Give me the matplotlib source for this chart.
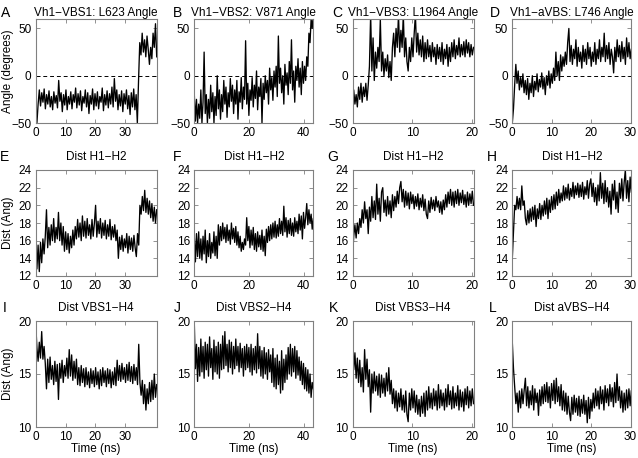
import numpy as np
import matplotlib
matplotlib.use("Agg")
import matplotlib.pyplot as plt

plt.rcParams["font.family"] = ["Liberation Sans", "DejaVu Sans"]

# ---- data (time in ns, values per panel) ----
t_end = [40.6, 43.5, 20.2, 30.2,
         40.6, 43.5, 20.2, 30.2,
         40.6, 43.5, 20.2, 30.2]

angle_vbs1 = [-38, -50, -30, -15, -32, -18, -28, -14, -35, -20, -30, -16, -33, -22, -36, -17,
              -29, -21, -34, -5, -27, -18, -38, -20, -31, -15, -36, -22, -30, -17, -35, -20,
              -28, -13, -34, -19, -31, -16, -37, -22, -29, -15, -33, -18, -40, -21, -30, -14,
              -36, -19, -32, -17, -35, -22, -28, -13, -37, -20, -31, -16, -34, -19, -30, -12,
              -33, -3, -27, -15, -36, -20, -32, -16, -38, -19, -30, -15, -35, -21, -41, -18,
              -33, -14, -36, -20, -50, -5, 35, 22, 45, 25, 38, 20, 42, 28, 12, 30,
              18, 45, 30, 55, 20]
angle_vbs2 = [-20, -48, -25, -50, -30, -45, -15, -50, -28, 25, -40, -20, -50, -25, -45, -10,
              -38, -18, -50, -22, -42, 0, -35, -15, -46, -20, -38, -5, -30, -12, -44, -18,
              -33, -3, -27, -10, -40, -15, -30, -5, -46, -17, -28, -2, -35, -12, -25, 37,
              -30, -8, -42, -15, -26, -2, -33, -10, -24, 5, -36, -12, -22, -3, -50, -8,
              -25, 0, -18, -5, -30, 8, -15, -2, -26, 5, -12, 10, -22, 42, -8, 8,
              -18, 0, -30, 12, -10, 3, -20, 15, -8, 38, -15, 5, -28, 10, -5, 18,
              -12, 8, -20, 15, -8, 10, -5, 20, 10, 45, 35, 60, 50, 65]
angle_vbs3 = [-35, -15, -30, -20, -33, -12, -25, -8, -28, -12, -22, -8, -26, -10, 10, 65,
              5, 40, -5, 25, 8, 30, 15, 60, 5, 25, 0, 18, 5, 22, -2, 15,
              -5, 30, 45, 20, 50, 30, 65, 25, 48, 30, 65, 20, 40, 15, 5, 30,
              15, 40, 20, 45, 65, 25, 45, 22, 38, 20, 42, 15, 35, 18, 38, 20,
              32, 15, 35, 20, 30, 12, 33, 18, 30, 15, 35, 12, 28, 18, 33, 10,
              30, 15, 35, 20, 38, 18, 32, 22, 40, 20, 33, 22, 36, 20, 38, 24,
              35, 20, 33, 22, 30]
angle_avbs = [-50, -35, -10, 12, -8, 5, -15, -2, -12, 2, -18, -5, -20, -3, -25, -8,
              -18, 0, -22, -6, -15, 2, -17, -4, -12, 3, -14, -2, -20, 0, -10, 5,
              -13, 2, -8, 8, -5, 25, 0, 15, -5, 22, 5, 20, 10, 25, 12, 35,
              50, 15, 32, 12, 28, 18, 38, 10, 30, 15, 25, 8, 32, 15, 28, 12,
              35, 18, 30, 10, 25, 15, 35, 12, 28, 18, 38, 15, 30, 20, 45, 15,
              32, 18, 35, 12, 28, 20, 3, 30, 15, 38, 20, 32, 15, 36, 18, 30,
              12, 40, 20, 35, 18, 28]

h1h2_vbs1 = [16, 12.8, 15.5, 12.5, 15.8, 13.5, 16.2, 14.5, 16.5, 19.5, 15.2, 17.5, 15.5, 17.8, 16, 18.5,
             15.8, 17.5, 16.2, 19.2, 16, 18, 15.5, 17.6, 14.8, 17, 15, 16.8, 14.6, 16.5, 15.2, 17.2,
             15.5, 17.6, 16.2, 18.4, 16.4, 18, 16, 18.8, 16.5, 18.2, 16.3, 18.5, 16.6, 17.8, 16.2, 18.4,
             16.5, 18, 20, 16.4, 18.2, 16.8, 18.5, 16.3, 18, 16.6, 18.3, 16.2, 17.8, 16.5, 18.4, 16.1,
             17.6, 16.4, 17.8, 16, 17.2, 14, 16.4, 15, 16.6, 14.8, 16.2, 15.2, 16.8, 14.6, 16.5, 15,
             16.3, 14.8, 16.6, 15.2, 14.2, 16.8, 15.5, 20, 19, 21, 19.4, 21.7, 19.2, 20.8, 19, 20.5,
             18.6, 20.2, 18.2, 19.8, 18, 19.5]
h1h2_vbs2 = [16.5, 13.6, 16.8, 14.2, 17, 14, 16.2, 13.8, 16.5, 14.5, 17.2, 13.5, 16, 14.2, 16.8, 14,
             15.8, 14.6, 17, 14.3, 16.5, 14, 17.8, 15.5, 17.6, 16, 18, 16.2, 17.5, 15.8, 17.8, 16,
             17.2, 15.6, 18, 16.2, 17.4, 15.8, 17.6, 15.5, 17, 15.2, 16.5, 14.8, 15.8, 15, 16.2, 15.5,
             18.6, 16, 17.6, 15.2, 17.2, 15.5, 17.5, 15, 16.8, 14.8, 17, 15.3, 16.6, 15, 17.2, 14.8,
             16.5, 14.3, 17.3, 15.8, 17.6, 16, 17.8, 16.2, 18, 16.4, 18.2, 16.3, 17.8, 16.5, 18.5, 16.8,
             18.2, 16.6, 19.9, 17, 18.6, 16.4, 18.3, 16.8, 18.5, 16.6, 18, 16.5, 18.6, 17, 18.2, 16.8,
             19, 17.2, 18.8, 16.2, 19.2, 17.4, 18.6, 20.2, 17.8, 19.5, 18, 19, 17.3, 18.5]
h1h2_vbs3 = [14, 16.5, 17.8, 16.3, 18, 16.8, 18.5, 17.5, 19.5, 18, 20.4, 18.5, 19.5, 16.8, 19.8, 18.2,
             21, 18.6, 20.5, 18.4, 22.4, 19, 20.8, 18.2, 21.5, 22, 19.2, 20.6, 18.8, 21, 19, 20.5,
             18.6, 21.2, 19.4, 21, 19.8, 21.6, 20.2, 22, 22.7, 20.4, 21.8, 19.8, 21.6, 20, 21.4, 19.6,
             21.5, 20.2, 21.2, 19.6, 21, 19.9, 21.3, 19.5, 20.8, 19.8, 21.2, 19.4, 20.7, 19, 18.5, 20.5,
             19.2, 20.9, 19.6, 20.6, 19.4, 21, 19.8, 20.5, 19.2, 20.4, 19, 20.6, 19.5, 21.2, 19.8, 21.5,
             20.2, 21.8, 20, 21.5, 19.8, 21.6, 20.2, 21.8, 20, 21.4, 20.3, 21.7, 20.1, 21.2, 19.8, 21.5,
             20, 21.3, 20.2, 21.6, 20]
h1h2_avbs = [14, 17, 20, 19.5, 21, 19.6, 20.8, 19.5, 22.2, 20, 20.5, 18.5, 17.8, 19.4, 18, 19.6,
             18.2, 19.8, 18.4, 20, 17.6, 19.6, 18.5, 20.2, 18.4, 20, 18.8, 20.5, 19, 20.8, 18.5, 20.6,
             19.2, 21, 19.5, 21.2, 19.6, 21.5, 20, 21.8, 20.3, 21.4, 20.5, 22.2, 20.6, 22, 20.8, 22.4,
             20.6, 21.9, 21, 22.6, 20.8, 22.2, 21.2, 22.5, 20.9, 22.3, 21, 22.6, 20.7, 22.1, 21.2, 22.8,
             20.8, 22.4, 23, 21, 22.5, 20.4, 22, 20, 22.3, 20.5, 23.7, 20.8, 22.5, 20.2, 22.8, 20.4,
             22, 19.8, 21.6, 19, 22.4, 20.6, 22.8, 19.6, 21.5, 19.2, 22.5, 20.8, 23, 20.5, 22.6, 24,
             20.8, 22.8, 20.4, 23.2, 21.5]

h4_vbs1 = [19.8, 17.5, 16.2, 18, 16.5, 19, 16.4, 17.6, 16, 13.6, 16.4, 14.2, 16.6, 14.5, 15.8, 14,
           16.2, 14.3, 15.9, 12.6, 16, 14.6, 16.3, 14.2, 15.8, 14.8, 16.5, 14.6, 17.3, 14.8, 16.8, 14.4,
           16.2, 14.6, 16.4, 14, 15.6, 13.9, 15.8, 14.2, 15.5, 13.8, 15.6, 14, 15.2, 13.7, 15.5, 14.1,
           15.3, 13.8, 15.6, 14, 15.2, 13.6, 15.4, 13.9, 15.6, 14.2, 15.3, 13.8, 15.5, 14.1, 15.4, 13.7,
           15.2, 14, 15.6, 13.9, 16.3, 14.4, 15.8, 14.3, 16, 14.5, 15.6, 14.2, 15.9, 14.4, 16.1, 14.3,
           15.7, 14.1, 15.9, 14.4, 15.6, 14, 17.8, 14.2, 13, 14.4, 12.2, 14, 11.6, 13.6, 12.2, 14.2,
           12.4, 14.4, 12.6, 15, 12.8, 14]
h4_vbs2 = [19.8, 15.5, 17.8, 14.3, 17.5, 14.8, 18.3, 15.2, 17.6, 14.6, 18, 15.4, 17.8, 14.8, 18.5, 15.6,
           17.4, 14.5, 18.2, 15.2, 17.6, 15, 18, 14.6, 17.8, 15.4, 18.6, 15.5, 19, 15.8, 17.8, 15.2,
           18.2, 15.6, 18, 15, 17.6, 15.5, 18.3, 15.8, 17.6, 15.2, 17.9, 15.6, 17.4, 14.8, 17.6, 15.4,
           17.8, 15.6, 17.5, 15.2, 17.8, 14.9, 17.4, 15.4, 17.6, 15.1, 18.8, 15.5, 17.6, 14.8, 17.2, 14.6,
           17.5, 15, 17, 14.5, 17.3, 15.2, 16.8, 14.2, 17.4, 13.8, 16.5, 13.6, 16.8, 14, 16.2, 13.2,
           17.2, 13.5, 16.4, 14.2, 16.8, 14.5, 17.5, 15, 17.8, 14.8, 17.4, 15.2, 17.6, 14.6, 17.2, 14.9,
           16.6, 14.4, 16.2, 14, 16, 13.6, 15.6, 13.4, 15.4, 13.2, 15, 12.8, 14.2, 13.6]
h4_vbs3 = [17.8, 15.4, 17, 14.6, 16.5, 14.2, 16.3, 13.8, 15.6, 13.3, 17.3, 14.5, 16.4, 13.8, 15.4, 11.4,
           15, 13.2, 15.2, 13.4, 14.8, 13, 15, 12.8, 14.9, 13.2, 14.6, 12.9, 15.1, 13.4, 15.6, 13.1,
           14.4, 12.2, 13.6, 11.8, 13.4, 11.5, 13.2, 11.9, 13.6, 11.6, 13, 11.4, 13.4, 11.2, 10.5, 13.2,
           11.6, 13.6, 11.8, 13.4, 11.4, 13, 11.2, 12.6, 11, 12.9, 11.3, 13.2, 11, 13.4, 11.6, 13.8,
           11.8, 13.2, 11.7, 13.6, 12, 13.4, 11.6, 14, 11.8, 13.5, 12, 13.2, 11.6, 13.6, 11.9, 14,
           12.1, 13.4, 11.7, 13.8, 11.8, 13.2, 12, 13.9, 11.6, 13.5, 11.9, 13.3, 11.5, 13.6, 12.1, 13.8,
           11.8, 13.4, 12, 13.6, 12.2]
h4_avbs = [18, 15.5, 13.8, 12.2, 13.2, 11.4, 13.4, 11.8, 13.6, 12.2, 13.5, 14.6, 12, 13.8, 11.8, 13.4,
           12.1, 13.9, 11.6, 13.6, 12.3, 13.2, 11.1, 13.5, 12, 13.8, 12.2, 14, 12.4, 14.2, 12.3, 13.8,
           11.8, 14.1, 12.5, 14.4, 12.2, 14.6, 12.4, 13.8, 12, 14, 11.6, 13.4, 11.5, 13.2, 11.2, 12.9,
           11.4, 10.6, 12.8, 11.2, 13, 11.4, 12.7, 11.1, 12.9, 11, 12.6, 11.3, 13, 11.2, 12.5, 10.4,
           12.8, 10.8, 12.6, 11.5, 13.2, 11.8, 13.6, 12, 13.4, 11.7, 13.8, 12.2, 13.5, 11.6, 13.9, 12.3,
           13.6, 12, 14, 12.4, 13.7, 11.9, 14.2, 12.3, 15, 12.5, 13.8, 11.8, 13.4, 11.4, 13.2, 11.6,
           13.5, 11.8, 13.6, 12, 13.4]

series = [angle_vbs1, angle_vbs2, angle_vbs3, angle_avbs,
          h1h2_vbs1, h1h2_vbs2, h1h2_vbs3, h1h2_avbs,
          h4_vbs1, h4_vbs2, h4_vbs3, h4_avbs]

titles = ["Vh1\u2212VBS1: L623 Angle", "Vh1\u2212VBS2: V871 Angle",
          "Vh1\u2212VBS3: L1964 Angle", "Vh1\u2212aVBS: L746 Angle",
          "Dist H1\u2212H2", "Dist H1\u2212H2", "Dist H1\u2212H2", "Dist H1\u2212H2",
          "Dist VBS1\u2212H4", "Dist VBS2\u2212H4", "Dist VBS3\u2212H4", "Dist aVBS\u2212H4"]
letters = list("ABCDEFGHIJKL")

row_ylim = [(-50, 60), (12, 24), (10, 20)]
row_yticks = [[-50, 0, 50], [12, 14, 16, 18, 20, 22, 24], [10, 15, 20]]
col_xticks = [[0, 10, 20, 30], [0, 20, 40], [0, 10, 20], [0, 10, 20, 30]]

# ---- layout in pixels ----
W, H = 638, 458
col_left = [35.7, 194.3, 352.5, 512.3]
col_right = [156.7, 313.3, 473.5, 631.3]
row_top = [19, 170, 321]
row_bottom = [123, 276, 427]
title_y = [13, 157, 308]
letter_x = [[6, 177, 337, 495], [5, 177, 333, 492], [5, 177, 333, 493]]

SPINE = "#808080"

fig = plt.figure(figsize=(W / 100, H / 100), dpi=100)

for r in range(3):
    for c in range(4):
        k = r * 4 + c
        x0, x1 = col_left[c], col_right[c]
        y0, y1 = row_top[r], row_bottom[r]
        ax = fig.add_axes([x0 / W, 1 - y1 / H, (x1 - x0) / W, (y1 - y0) / H])

        vals = np.array(series[k], dtype=float)
        t = np.linspace(0, t_end[k], len(vals))
        ax.plot(t, vals, color="black", lw=0.95)
        if r == 0:
            ax.axhline(0, color="black", lw=0.7, ls=(0, (4, 3)))

        ax.set_xlim(0, t_end[k])
        ax.set_ylim(*row_ylim[r])
        ax.set_xticks(col_xticks[c])
        ax.set_yticks(row_yticks[r])
        ax.tick_params(direction="in", length=3, width=0.6, color=SPINE,
                       top=True, right=True, labelsize=8.5, pad=3)
        for sp in ax.spines.values():
            sp.set_color(SPINE)
            sp.set_linewidth(0.8)

        fig.text((x0 + x1) / 2 / W, 1 - title_y[r] / H, titles[k],
                 ha="center", va="center", fontsize=8.5)
        fig.text(letter_x[r][c] / W, 1 - title_y[r] / H, letters[k],
                 ha="center", va="center", fontsize=10)

fig.text(8 / W, 1 - 71 / H, "Angle (degrees)", rotation=90,
         ha="center", va="center", fontsize=8.5)
fig.text(8 / W, 1 - 223 / H, "Dist (Ang)", rotation=90,
         ha="center", va="center", fontsize=8.5)
fig.text(8 / W, 1 - 374 / H, "Dist (Ang)", rotation=90,
         ha="center", va="center", fontsize=8.5)
for c in range(4):
    fig.text((col_left[c] + col_right[c]) / 2 / W, 1 - 449 / H, "Time (ns)",
             ha="center", va="center", fontsize=8.5)

fig.savefig("out.png", dpi=100)
